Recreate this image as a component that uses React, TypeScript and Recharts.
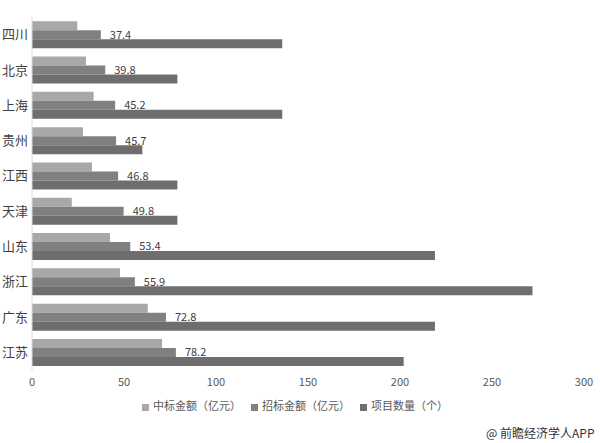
import { BarChart, Bar, XAxis, YAxis, Legend, LabelList } from 'recharts';

const provinces = ['四川', '北京', '上海', '贵州', '江西', '天津', '山东', '浙江', '广东', '江苏'];
const winningAmount = [24.6, 29.3, 33.5, 27.7, 32.6, 21.6, 42.4, 47.8, 62.9, 70.7];
const tenderAmount = [37.4, 39.8, 45.2, 45.7, 46.8, 49.8, 53.4, 55.9, 72.8, 78.2];
const projectCount = [136, 79, 136, 60, 79, 79, 219, 272, 219, 202];
const xTicks = [0, 50, 100, 150, 200, 250, 300];

const data = provinces.map((name, i) => ({
    name,
    winning: winningAmount[i],
    tender: tenderAmount[i],
    count: projectCount[i],
}));

const FONT = '"Noto Sans CJK SC", "Noto Sans", sans-serif';

export default function App() {
    return (
        <div style={{ position: 'absolute', left: 0, top: 0, width: 600, height: 443, background: '#fff', fontFamily: FONT }}>
            <BarChart
                width={600}
                height={443}
                data={data}
                layout="vertical"
                margin={{ top: 17, right: 16, bottom: 43, left: 0 }}
                barCategoryGap="12%"
                barGap={0}
            >
                <XAxis
                    type="number"
                    domain={[0, 300]}
                    ticks={xTicks}
                    axisLine={false}
                    tickLine={false}
                    tickSize={0}
                    tickMargin={8}
                    height={30}
                    tick={{ fontSize: 11, fill: '#595959', fontFamily: FONT }}
                />
                <YAxis
                    type="category"
                    dataKey="name"
                    width={32}
                    axisLine={{ stroke: '#d9d9d9' }}
                    tickLine={false}
                    tickSize={0}
                    tickMargin={4}
                    tick={{ fontSize: 13, fill: '#404040', fontFamily: FONT }}
                />
                <Legend
                    verticalAlign="middle"
                    align="center"
                    layout="horizontal"
                    iconType="square"
                    iconSize={7}
                    wrapperStyle={{ top: 397, left: 0, width: 600, fontSize: 11, fontFamily: FONT }}
                    formatter={(value: string) => <span style={{ color: '#595959' }}>{value}</span>}
                />
                <Bar dataKey="winning" name="中标金额（亿元）" fill="#a8a8a8" isAnimationActive={false} />
                <Bar dataKey="tender" name="招标金额（亿元）" fill="#808080" isAnimationActive={false}>
                    <LabelList dataKey="tender" position="right" offset={9} style={{ fontSize: 11, fill: '#404040', fontFamily: FONT }} />
                </Bar>
                <Bar dataKey="count" name="项目数量（个）" fill="#6e6e6e" isAnimationActive={false} />
            </BarChart>
            <div style={{ position: 'absolute', left: 486, top: 424, fontSize: 12, color: '#333', fontFamily: FONT }}>
                @ 前瞻经济学人APP
            </div>
        </div>
    );
}
